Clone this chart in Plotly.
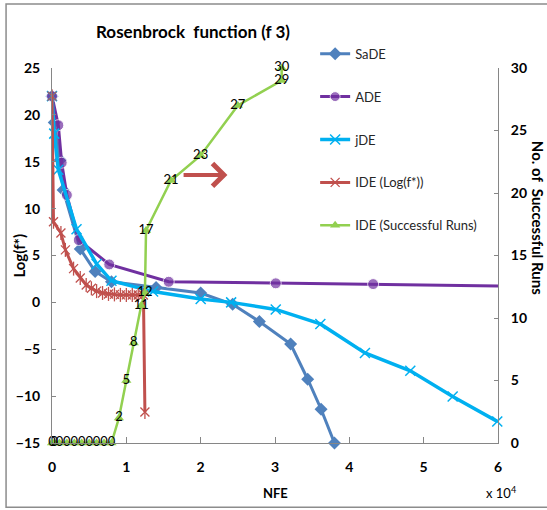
import plotly.graph_objects as go

# NFE values are in units of 1e4 (the axis carries the "x 10^4" multiplier)
nfe_sade = [0, 0.03, 0.11, 0.15, 0.38, 0.58, 0.80, 1.40, 2.00, 2.43, 2.79, 3.21, 3.44, 3.62, 3.80]
log_sade = [22, 19.2, 15.2, 12.0, 5.7, 3.3, 2.2, 1.6, 1.0, -0.2, -2.05, -4.45, -8.2, -11.4, -15]

nfe_ade = [0, 0.085, 0.13, 0.20, 0.36, 0.77, 1.57, 3.01, 4.32, 6.00]
log_ade = [22, 18.9, 14.9, 11.45, 6.65, 4.05, 2.2, 2.03, 1.95, 1.75]

nfe_jde = [0, 0.03, 0.085, 0.33, 0.60, 0.80, 1.36, 2.00, 2.41, 3.01, 3.61, 4.21, 4.82, 5.39, 5.99]
log_jde = [22, 18.0, 14.15, 7.8, 4.1, 2.3, 1.15, 0.35, 0.0, -0.75, -2.3, -5.4, -7.3, -10.05, -12.7]

nfe_ide = [0, 0.02, 0.12, 0.18, 0.29, 0.38, 0.46, 0.53, 0.60, 0.68, 0.76, 0.84, 0.92,
           1.00, 1.08, 1.16, 1.23, 1.25]
log_ide = [22, 8.6, 7.4, 5.6, 3.6, 2.6, 1.85, 1.5, 1.2, 1.0, 0.9, 0.85, 0.8,
           0.8, 0.78, 0.78, 0.78, -11.7]

nfe_runs = [0, 0.03, 0.1, 0.2, 0.3, 0.4, 0.5, 0.6, 0.7, 0.8, 0.9, 1.0, 1.1, 1.2,
            1.25, 1.265, 1.6, 2.0, 2.5, 3.09, 3.09]
runs = [0, 0, 0, 0, 0, 0, 0, 0, 0, 0, 2, 5, 8, 11, 12, 17, 21, 23, 27, 29, 30]

x_ticks = [0, 1, 2, 3, 4, 5, 6]
log_ticks = [-15, -10, -5, 0, 5, 10, 15, 20, 25]
run_ticks = [0, 5, 10, 15, 20, 25, 30]

FONT = "Lato"
C_SADE = "#4F81BD"
C_ADE = "#7030A0"
C_JDE = "#00B0F0"
C_IDE = "#C0504D"
C_RUNS = "#92D050"
AXIS = "#868686"

fig = go.Figure()

fig.add_trace(go.Scatter(
    x=nfe_sade, y=log_sade, name="SaDE", mode="lines+markers", legendgroup="a",
    line=dict(color=C_SADE, width=3), cliponaxis=False,
    marker=dict(symbol="diamond", size=10, color=C_SADE),
))
fig.add_trace(go.Scatter(
    x=nfe_ade, y=log_ade, name="ADE", mode="lines+markers", legendgroup="b",
    line=dict(color=C_ADE, width=3), cliponaxis=False,
    marker=dict(symbol="circle", size=[11] * (len(nfe_ade) - 1) + [0], color=C_ADE),
))
fig.add_trace(go.Scatter(
    x=nfe_jde, y=log_jde, name="jDE", mode="lines+markers", legendgroup="c",
    line=dict(color=C_JDE, width=3.5), cliponaxis=False,
    marker=dict(symbol="x-thin-open", size=10, color=C_JDE, line=dict(color=C_JDE, width=1.5)),
))
fig.add_trace(go.Scatter(
    x=nfe_ide, y=log_ide, name="IDE (Log(f*))", mode="lines+markers", legendgroup="d",
    line=dict(color=C_IDE, width=3), cliponaxis=False,
    marker=dict(symbol="x-thin-open", size=9, color=C_IDE, line=dict(color=C_IDE, width=1.3)),
))
# vertical stroke completing the asterisk markers
fig.add_trace(go.Scatter(
    x=nfe_ide, y=log_ide, mode="markers", showlegend=False, hoverinfo="skip", cliponaxis=False,
    marker=dict(symbol="line-ns-open", size=10, color=C_IDE, line=dict(color=C_IDE, width=1.3)),
))
fig.add_trace(go.Scatter(
    x=nfe_runs, y=runs, name="IDE (Successful Runs)", yaxis="y2",
    mode="lines+markers+text", legendgroup="e", cliponaxis=False,
    line=dict(color=C_RUNS, width=2.5),
    marker=dict(symbol="triangle-up", size=9, color=C_RUNS),
    text=[str(v) for v in runs], textposition="middle center",
    textfont=dict(family=FONT, size=13, color="black"),
))

tick_font = dict(family=FONT, size=14, color="black", weight="bold")

fig.update_layout(
    width=547, height=510,
    margin=dict(l=52, r=49, t=68, b=67),
    paper_bgcolor="white", plot_bgcolor="white",
    showlegend=True,
    legend=dict(
        x=0.59, y=1.078, xanchor="left", yanchor="top",
        traceorder="grouped", tracegroupgap=23,
        font=dict(family=FONT, size=13, color="#262626"),
        bgcolor="rgba(0,0,0,0)",
    ),
    xaxis=dict(
        range=[0, 6], tickvals=x_ticks, ticks="inside", ticklen=6, tickcolor=AXIS,
        showline=True, linecolor=AXIS, linewidth=1, showgrid=False, zeroline=False,
        tickfont=tick_font, ticklabelstandoff=11,
    ),
    yaxis=dict(
        range=[-15, 25], tickvals=log_ticks, ticks="inside", ticklen=4, tickcolor=AXIS,
        showline=True, linecolor=AXIS, linewidth=1, showgrid=False, zeroline=False,
        tickfont=tick_font, ticklabelstandoff=8,
    ),
    yaxis2=dict(
        range=[0, 30], tickvals=run_ticks, overlaying="y", side="right",
        ticks="inside", ticklen=4, tickcolor=AXIS,
        showline=True, linecolor=AXIS, linewidth=1, showgrid=False, zeroline=False,
        tickfont=tick_font, ticklabelstandoff=9,
    ),
    shapes=[dict(
        type="rect", xref="paper", yref="paper",
        x0=-0.103, x1=1.12, y0=-0.171, y1=1.171,
        line=dict(color="#8C8C8C", width=1.5), fillcolor="rgba(0,0,0,0)", layer="below",
    )],
    annotations=[
        dict(text="<b>Rosenbrock  function (f 3)</b>", xref="paper", yref="paper",
             x=0.317, y=1.096, xanchor="center", yanchor="middle", showarrow=False,
             font=dict(family=FONT, size=17, color="black")),
        dict(text="<b>Log(f*)</b>", xref="paper", yref="paper", x=-0.076, y=0.5,
             xanchor="center", yanchor="middle",
             textangle=-90, showarrow=False, font=dict(family=FONT, size=15, color="black")),
        dict(text="<b>No. of  Successful Runs</b>", xref="paper", yref="paper",
             x=1.09, y=0.6, xanchor="center", yanchor="middle", textangle=90, showarrow=False,
             font=dict(family=FONT, size=15, color="black")),
        dict(text="<b>NFE</b>", xref="paper", yref="paper", x=0.502, y=-0.133,
             xanchor="center", yanchor="middle",
             showarrow=False, font=dict(family=FONT, size=13, color="black")),
        dict(text="x 10<sup>4</sup>", xref="paper", yref="paper", x=1.008, y=-0.133,
             xanchor="center", yanchor="middle",
             showarrow=False, font=dict(family=FONT, size=13, color="black")),
        # arrow pointing the successful-runs curve to the right-hand axis
        dict(x=2.36, y=13.6, ax=1.75, ay=13.6, xref="x", yref="y", axref="x", ayref="y",
             text="", showarrow=True, arrowhead=4, arrowsize=1.1, arrowwidth=4,
             arrowcolor=C_IDE, standoff=0, startstandoff=0),
    ],
)

fig.write_html("out.html")
